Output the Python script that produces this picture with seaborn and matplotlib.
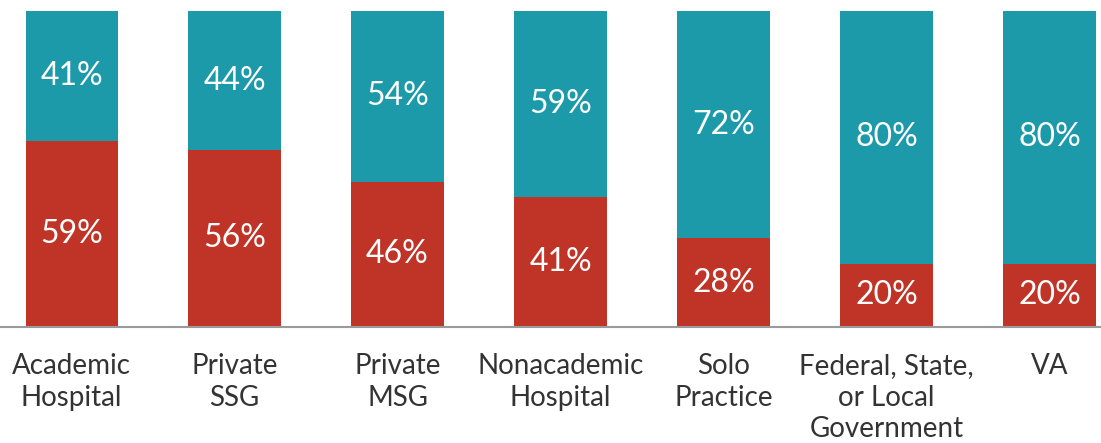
import seaborn as sns
import pandas as pd
import matplotlib.pyplot as plt

sns.set_theme(style='white')
plt.rcParams['font.family'] = ['Lato', 'DejaVu Sans']

categories = ['Academic\nHospital', 'Private\nSSG', 'Private\nMSG', 'Nonacademic\nHospital',
              'Solo\nPractice', 'Federal, State,\nor Local\nGovernment', 'VA']
red_pct = [59, 56, 46, 41, 28, 20, 20]
teal_pct = [41, 44, 54, 59, 72, 80, 80]

teal = '#1c9aa9'
red = '#c03427'

df = pd.DataFrame({'cat': categories, 'red': red_pct, 'teal': teal_pct})
df['total'] = df['red'] + df['teal']

fig = plt.figure(figsize=(11.01, 4.43), dpi=100)
ax = fig.add_axes([0, 0.262, 1, 0.713])

sns.barplot(data=df, x='cat', y='total', color=teal, width=0.565, saturation=1,
            linewidth=0, edgecolor='none', ax=ax)
sns.barplot(data=df, x='cat', y='red', color=red, width=0.565, saturation=1,
            linewidth=0, edgecolor='none', ax=ax)

for i, row in df.iterrows():
    ax.text(i, row['red'] / 2, f"{row['red']}%", ha='center', va='center',
            color='white', fontsize=23)
    ax.text(i, row['red'] + row['teal'] / 2, f"{row['teal']}%", ha='center', va='center',
            color='white', fontsize=23)

ax.set_xlim(-0.439, 6.316)
ax.set_ylim(0, 100)
ax.set_xlabel('')
ax.set_ylabel('')
ax.set_yticks([])
ax.tick_params(axis='x', length=0, pad=19, labelsize=20, colors='#333333')
for lbl in ax.get_xticklabels():
    lbl.set_verticalalignment('top')
    lbl.set_linespacing(1.25)
for s in ['top', 'right', 'left']:
    ax.spines[s].set_visible(False)
ax.spines['bottom'].set_color('#9a9a9a')
ax.spines['bottom'].set_linewidth(1.5)

fig.savefig('out.png', dpi=100)
